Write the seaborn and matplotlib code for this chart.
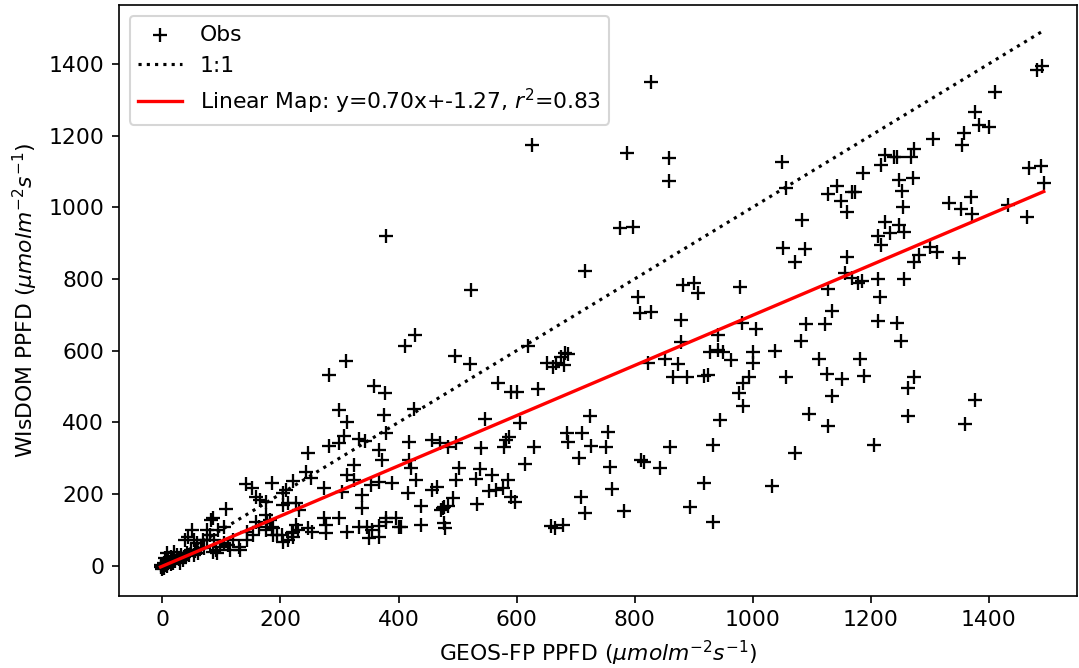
import numpy as np
import pandas as pd
import matplotlib
matplotlib.use("Agg")
import matplotlib.pyplot as plt
import seaborn as sns

# GEOS-FP PPFD (x) and WIsDOM PPFD (y)
geos_fp = [
    828, 626, 787, 859, 859, 1049, 1056, 1142, 1127, 1149, 1168, 1173, 1186, 1217, 1224, 1239, 1244, 1268, 1274, 1247,
    1271, 1252, 1305, 1358, 1354, 1376, 1383, 1400, 1410, 1481, 1490, 1468, 1488, 1493, 1332, 1369, 1432,
    378, 523, 716, 776, 798, 428, 411, 311, 283, 358, 377, 882, 901, 908, 979, 806, 809, 828, 879, 981, 1006, 942,
    879, 619, 496, 521, 927, 942, 950, 964, 1001, 1000, 682, 687, 675, 652, 662, 667, 680, 823, 852, 874, 865, 888,
    918, 925, 994, 984, 976, 568, 591, 601, 636,
    1159, 1254, 1352, 1371, 1465, 1084, 1224, 1247, 1256, 1232, 1213, 1218, 1052, 1088, 1071, 1159, 1300, 1312, 1281,
    1274, 1349, 1156, 1168, 1179, 1185, 1212, 1257, 1128, 1215, 1134, 1091, 1122, 1212, 1244, 1081, 1251, 1037, 1112,
    1181, 1056, 1125, 1151, 1188, 1274, 1263, 1135, 1376, 1096, 1128, 1263, 1359, 1071, 1205, 1032,
    546, 606, 725, 686, 711, 755, 687, 726, 752, 582, 587, 579, 540, 630, 484, 497, 706, 614, 502, 497, 538, 531, 558,
    585, 759, 811, 815, 843, 860, 945, 983, 932, 918, 553, 565, 577, 591, 597, 492, 484, 475, 533, 709, 762, 716, 782,
    893, 933, 658, 665, 679, 477, 479,
    299, 312, 375, 426, 378, 307, 299, 282, 333, 344, 417, 456, 470, 367, 372, 246, 417, 421, 324, 312, 324, 244, 251,
    429, 465, 456, 416, 438, 477, 472, 141, 151, 185, 221, 209, 273, 304, 338, 353, 367, 389, 205, 226, 231, 338, 107,
    273, 277, 299, 226, 222, 253, 277, 312, 333, 346, 355, 367, 378, 378, 395, 400, 405, 350, 367, 438, 175, 183, 185,
    202, 219, 85,
    158, 166, 176, 205, 212, 83, 104, 95, 51, 44, 39, 53, 76, 81, 76, 87, 158, 163, 178, 175, 188, 195, 187, 229, 222,
    212, 205, 246, 144, 153, 144, 120, 112, 129, 132, 115, 104, 98, 90, 85, 93, 70, 61, 53, 36, 25, 19, 10, 2, -3, 48,
    42, 31, 19, 14, 8, 5, 59, 68,
    0, 3, 6, 12, 15, 22, 28, 35, 40, -2, 8, 18, 45, 55, 65, 30,
]
wisdom = [
    1350, 1174, 1152, 1138, 1074, 1127, 1054, 1060, 1038, 1018, 1043, 1043, 1096, 1118, 1146, 1141, 1141, 1141, 1163, 1077,
    1082, 1046, 1191, 1208, 1174, 1266, 1230, 1224, 1322, 1383, 1395, 1110, 1116, 1068, 1012, 1029, 1007,
    920, 770, 823, 943, 945, 644, 614, 572, 533, 502, 482, 784, 789, 761, 778, 750, 706, 708, 686, 678, 661, 644,
    625, 614, 586, 563, 597, 602, 597, 575, 597, 566, 594, 591, 583, 566, 555, 566, 561, 566, 577, 563, 527, 527,
    530, 533, 527, 510, 482, 510, 485, 485, 494,
    987, 1001, 996, 982, 973, 965, 959, 951, 932, 929, 920, 895, 887, 884, 848, 862, 890, 876, 867,
    848, 859, 817, 803, 789, 795, 800, 800, 773, 750, 711, 675, 675, 683, 678, 628, 628, 600, 577,
    577, 527, 535, 522, 530, 527, 496, 474, 463, 424, 390, 418, 396, 315, 337, 223,
    410, 399, 418, 371, 371, 374, 346, 335, 332, 351, 360, 332, 329, 332, 332, 343, 301, 284, 273, 240, 271, 243, 254,
    240, 276, 296, 290, 273, 332, 407, 446, 337, 231, 209, 212, 218, 192, 178, 190, 167, 162, 173, 192, 215, 148, 153,
    165, 123, 112, 106, 114, 120, 106,
    435, 402, 421, 438, 371, 363, 343, 335, 354, 349, 346, 351, 343, 324, 296, 315, 296, 273, 282, 254, 240, 262, 245,
    240, 220, 212, 204, 167, 165, 156, 229, 218, 231, 237, 212, 218, 206, 198, 226, 234, 231, 170, 176, 156, 162, 159,
    134, 114, 134, 114, 95, 95, 92, 95, 109, 109, 100, 112, 134, 123, 134, 109, 109, 78, 81, 114, 142, 128, 109,
    86, 92, 134,
    192, 184, 178, 204, 176, 128, 109, 100, 100, 81, 73, 73, 100, 86, 73, 73, 123, 109, 120, 100, 106, 86, 86, 100, 81,
    73, 67, 106, 95, 86, 73, 73, 59, 53, 45, 45, 64, 53, 45, 39, 36, 50, 36, 31, 25, 31, 22, 17, 8, 3, 45,
    36, 31, 39, 25, 36, 22, 64, 73,
    -9, -5, 2, 10, 5, 12, 18, 15, 28, -4, -2, 8, 30, 40, 50, 8,
]

slope, intercept, r_squared = 0.70, -1.27, 0.83

df = pd.DataFrame({"GEOS-FP": geos_fp, "WIsDOM": wisdom})

plt.rcParams["font.size"] = 10.5

fig, ax = plt.subplots(figsize=(1079 / 150, 668 / 150), dpi=150)
fig.subplots_adjust(left=0.110, right=0.998, bottom=0.108, top=0.9925)

sns.scatterplot(data=df, x="GEOS-FP", y="WIsDOM", marker="+", color="black",
                s=50, linewidth=1.1, ax=ax, label="Obs", zorder=2)

lo, hi = min(geos_fp), max(geos_fp)
line_x = np.array([lo, hi], dtype=float)
sns.lineplot(x=line_x, y=line_x, color="black", linestyle=":", linewidth=1.5,
             ax=ax, label="1:1", zorder=3)
sns.lineplot(x=line_x, y=slope * line_x + intercept, color="red", linewidth=1.6,
             ax=ax, label=f"Linear Map: y={slope:.2f}x+{intercept:.2f}, $r^2$={r_squared:.2f}",
             zorder=4)

ax.set_xlim(-74, 1549)
ax.set_ylim(-84, 1564)
ax.set_xticks(range(0, 1401, 200))
ax.set_yticks(range(0, 1401, 200))
ax.set_xlabel(r"GEOS-FP PPFD ($\mu molm^{-2}s^{-1}$)")
ax.set_ylabel(r"WIsDOM PPFD ($\mu molm^{-2}s^{-1}$)")
ax.legend(loc="upper left")

fig.savefig("out.png", dpi=150)
